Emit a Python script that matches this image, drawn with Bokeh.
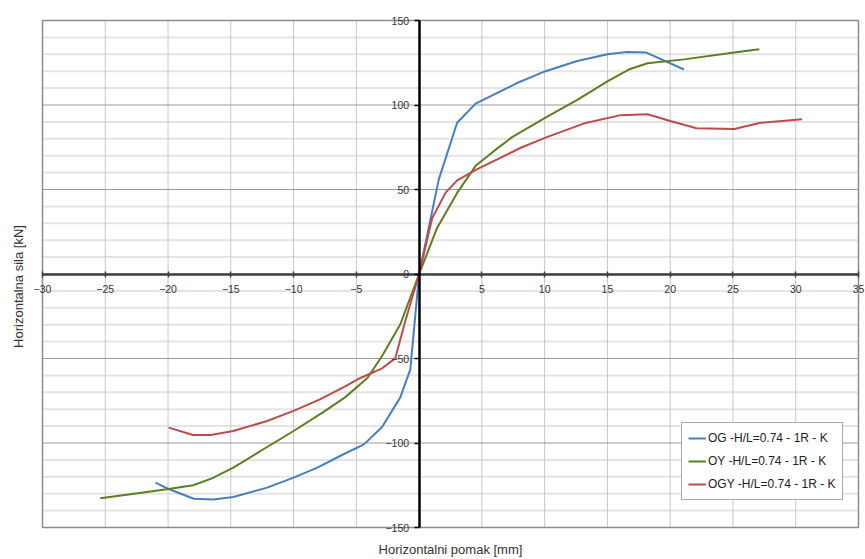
import math
from bokeh.plotting import figure
from bokeh.models import Range1d, FixedTicker, Legend, LegendItem
from bokeh.core.properties import value
from bokeh.embed import file_html
from bokeh.resources import INLINE

# Data (displacement mm, force kN)
og_x = [-21.0, -19.9, -17.95, -16.4, -14.8, -12.1, -10.0, -8.1, -6.3, -4.4, -2.95, -1.5, -0.7, 0.0,
        1.57, 3.03, 4.5, 7.8, 10.07, 12.6, 15.0, 16.6, 18.1, 21.1]
og_y = [-123.5, -127.4, -133.0, -133.5, -132.0, -126.4, -120.5, -114.6, -107.7, -100.8, -90.5, -73.0, -56.4, 0.0,
        56.0, 89.5, 100.8, 113.0, 120.0, 126.0, 130.0, 131.4, 131.0, 121.0]

oy_x = [-25.4, -22.7, -20.1, -18.0, -16.5, -14.8, -12.4, -10.0, -7.7, -5.9, -4.1, -2.95, -1.5, 0.0,
        1.44, 3.03, 4.5, 5.8, 7.4, 10.07, 12.6, 15.0, 16.7, 18.2, 21.1, 25.1, 27.1]
oy_y = [-132.7, -130.0, -127.4, -125.0, -120.9, -114.6, -103.7, -92.9, -82.0, -73.0, -61.4, -48.5, -29.8, 0.0,
        27.4, 48.0, 64.0, 71.8, 81.0, 92.5, 103.0, 114.0, 121.0, 124.7, 127.0, 131.0, 133.0]

ogy_x = [-19.95, -18.0, -16.6, -14.8, -12.1, -10.0, -7.9, -6.0, -4.9, -2.95, -1.9, -1.1, 0.0,
         1.04, 2.1, 3.03, 4.63, 8.1, 10.07, 13.1, 16.05, 18.2, 20.0, 22.1, 25.1, 27.2, 30.5]
ogy_y = [-90.9, -95.3, -95.3, -92.9, -87.0, -81.0, -74.2, -66.9, -62.3, -55.8, -49.9, -27.8, 0.0,
         33.0, 48.0, 55.4, 62.0, 74.7, 80.7, 89.0, 94.0, 94.5, 90.5, 86.2, 85.8, 89.5, 91.5]

series_labels = ["OG -H/L=0.74 - 1R - K", "OY -H/L=0.74 - 1R - K", "OGY -H/L=0.74 - 1R - K"]
series_colors = ["#4a7ebb", "#5b7f22", "#be4b48"]

x_ticks = [-30, -25, -20, -15, -10, -5, 0, 5, 10, 15, 20, 25, 30, 35]
y_ticks = [-150, -100, -50, 0, 50, 100, 150]
y_minor_ticks = [-140, -130, -120, -110, -90, -80, -70, -60, -40, -30, -20, -10,
                 10, 20, 30, 40, 60, 70, 80, 90, 110, 120, 130, 140]

x_title = "Horizontalni pomak [mm]"
y_title = "Horizontalna sila [kN]"

FONT = "Liberation Sans"

# page layout (pixels): plot-area box inside an 865x559 canvas
W, H = 865, 559
PL, PR, PT, PB = 42, 858, 20, 527
XMIN, XMAX, YMIN, YMAX = -30, 35, -150, 150
sx = (PR - PL) / (XMAX - XMIN)
sy = (PB - PT) / (YMAX - YMIN)
x_range = Range1d(XMIN - PL / sx, XMAX + (W - PR) / sx)
y_range = Range1d(YMIN - (H - PB) / sy, YMAX + PT / sy)

p = figure(width=W, height=H, output_backend="svg", toolbar_location=None,
           x_range=x_range, y_range=y_range,
           min_border_left=0, min_border_top=0, min_border_right=0, min_border_bottom=0)
p.background_fill_color = "white"
p.border_fill_color = "white"
p.outline_line_color = None
p.xgrid.visible = False
p.ygrid.visible = False

# grid lines restricted to the plot area
p.segment(x0=[XMIN] * len(y_minor_ticks), x1=[XMAX] * len(y_minor_ticks),
          y0=y_minor_ticks, y1=y_minor_ticks, line_color="#e4e4e4", line_width=2)
p.segment(x0=x_ticks, x1=x_ticks, y0=[YMIN] * len(x_ticks), y1=[YMAX] * len(x_ticks),
          line_color="#c8c8c8", line_width=1)
p.segment(x0=[XMIN] * len(y_ticks), x1=[XMAX] * len(y_ticks), y0=y_ticks, y1=y_ticks,
          line_color="#9a9a9a", line_width=1)
# plot-area border
p.quad(left=[XMIN], right=[XMAX], bottom=[YMIN], top=[YMAX], fill_color=None,
       line_color="#8c8c8c", line_width=1.5)

renderers = []
for xs, ys, c in zip([og_x, oy_x, ogy_x], [og_y, oy_y, ogy_y], series_colors):
    r = p.line(xs, ys, line_color=c, line_width=2)
    renderers.append(r)

# axes crossing at origin
p.xaxis.ticker = FixedTicker(ticks=x_ticks)
p.yaxis.ticker = FixedTicker(ticks=y_ticks)
p.xaxis.fixed_location = 0
p.yaxis.fixed_location = 0
p.xaxis.bounds = (XMIN, XMAX)
p.yaxis.bounds = (YMIN, YMAX)
p.xaxis.major_label_overrides = {0: ""}
for ax in (p.xaxis, p.yaxis):
    ax.minor_tick_line_color = None
    ax.major_tick_line_width = 1.5
    ax.major_label_text_font = FONT
    ax.major_label_text_font_size = "10.5px"
    ax.major_label_text_color = "#333333"
p.xaxis.axis_line_color = "#404040"
p.xaxis.axis_line_width = 2.5
p.xaxis.major_tick_line_color = "#404040"
p.xaxis.major_tick_in = 3
p.xaxis.major_tick_out = 3
p.xaxis.major_label_standoff = 8
p.yaxis.axis_line_color = "black"
p.yaxis.axis_line_width = 2.5
p.yaxis.major_tick_line_color = "black"
p.yaxis.major_tick_in = 0
p.yaxis.major_tick_out = 5
p.yaxis.major_label_standoff = 5

# axis titles
p.text(x=[(XMIN + XMAX) / 2], y=[YMIN - 22 / sy], text=[x_title], text_align="center",
       text_baseline="middle", text_font=value(FONT), text_font_size="13px", text_color="#333333")
p.text(x=[XMIN - 24 / sx], y=[YMAX - 266 / sy], text=[y_title], angle=math.pi / 2,
       text_align="center", text_baseline="middle", text_font=value(FONT), text_font_size="13px",
       text_color="#333333")

legend = Legend(items=[LegendItem(label=l, renderers=[r]) for l, r in zip(series_labels, renderers)],
                location=(681, H - 500))
legend.label_text_font = FONT
legend.label_text_font_size = "12px"
legend.label_text_color = "#222222"
legend.glyph_width = 18
legend.glyph_height = 18
legend.label_height = 18
legend.label_standoff = 2
legend.spacing = 5
legend.padding = 6
legend.margin = 0
legend.border_line_color = "#555555"
legend.border_line_width = 1
legend.background_fill_color = "white"
legend.background_fill_alpha = 1
p.add_layout(legend)

open("out.html", "w").write(file_html(p, INLINE))
